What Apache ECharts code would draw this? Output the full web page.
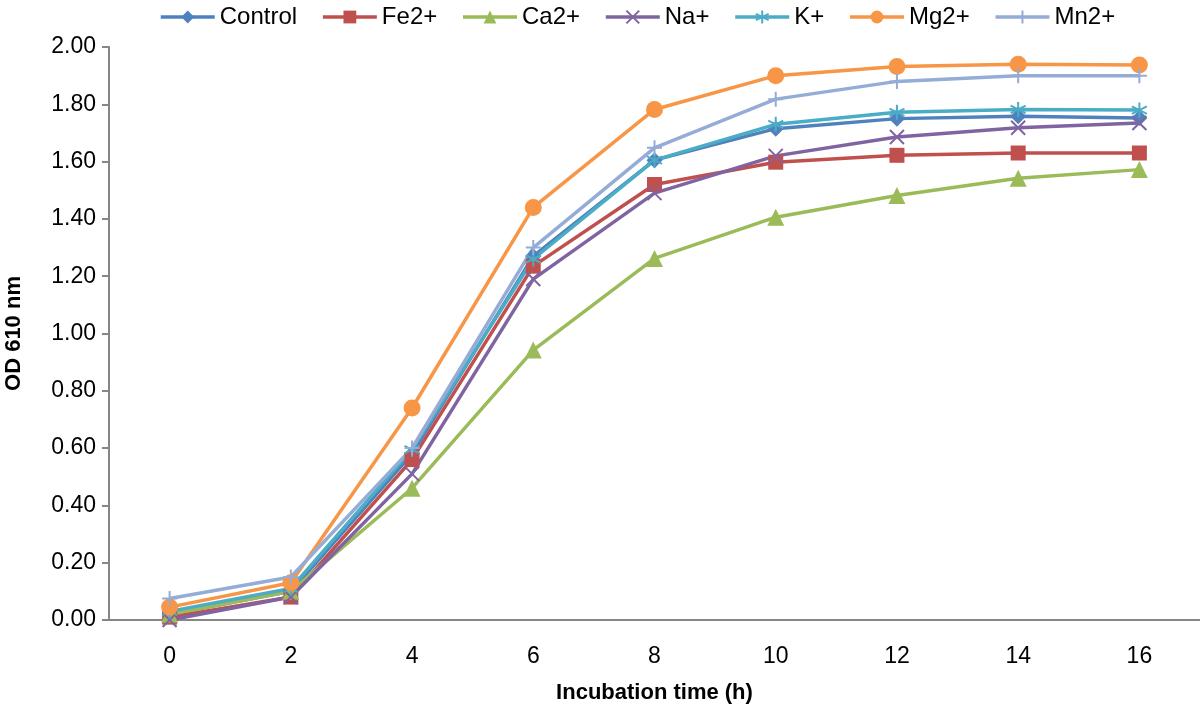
<!DOCTYPE html>
<html>
<head>
<meta charset="utf-8">
<script src="https://cdn.jsdelivr.net/npm/echarts@6/dist/echarts.min.js"></script>
<style>
  html, body { margin: 0; padding: 0; background: #fff; }
  #chart { width: 1200px; height: 709px; }
</style>
</head>
<body>
<div id="chart"></div>
<script>
// incubation time (h)
var hours = ['0', '2', '4', '6', '8', '10', '12', '14', '16'];

// OD 610 nm per treatment
var control = [0.02, 0.10, 0.58, 1.27, 1.605, 1.715, 1.75, 1.758, 1.752];
var fe2 = [0.01, 0.08, 0.56, 1.235, 1.52, 1.598, 1.622, 1.63, 1.63];
var ca2 = [0.02, 0.10, 0.46, 0.942, 1.262, 1.406, 1.482, 1.542, 1.572];
var na = [0.00, 0.08, 0.51, 1.19, 1.49, 1.62, 1.686, 1.718, 1.735];
var k = [0.03, 0.11, 0.595, 1.26, 1.605, 1.73, 1.772, 1.782, 1.78];
var mg2 = [0.045, 0.13, 0.74, 1.44, 1.782, 1.90, 1.932, 1.94, 1.937];
var mn2 = [0.075, 0.15, 0.60, 1.30, 1.648, 1.818, 1.88, 1.90, 1.90];

var font = '"Liberation Sans", Arial, Helvetica, sans-serif';

function mk(name, data, color, symbol, size, stroke) {
  return {
    name: name,
    type: 'line',
    data: data,
    symbol: symbol,
    symbolSize: size,
    showAllSymbol: true,
    lineStyle: { color: color, width: 3.5 },
    itemStyle: stroke
      ? { color: color, borderColor: color, borderWidth: 2 }
      : { color: color },
    emphasis: { disabled: true },
    animation: false
  };
}

var chart = echarts.init(document.getElementById('chart'));
chart.setOption({
  backgroundColor: '#fff',
  textStyle: { fontFamily: font },
  legend: {
    top: 0,
    left: 154,
    itemWidth: 54,
    itemHeight: 16,
    itemGap: 24,
    lineStyle: { width: 3.5 },
    textStyle: { fontSize: 24, color: '#000', fontFamily: font }
  },
  grid: { left: 109, right: 0, top: 47, bottom: 89, outerBoundsMode: 'none' },
  xAxis: {
    type: 'category',
    data: hours,
    boundaryGap: true,
    name: 'Incubation time (h)',
    nameLocation: 'middle',
    nameGap: 62,
    nameTextStyle: { fontSize: 22, fontWeight: 'bold', color: '#000', fontFamily: font },
    axisLine: { lineStyle: { color: '#868686', width: 2 } },
    axisTick: { show: false },
    axisLabel: { fontSize: 23, color: '#000', margin: 25, fontFamily: font }
  },
  yAxis: {
    type: 'value',
    min: 0,
    max: 2,
    interval: 0.2,
    name: 'OD 610 nm',
    nameLocation: 'middle',
    nameGap: 84,
    nameTextStyle: { fontSize: 22, fontWeight: 'bold', color: '#000', fontFamily: font },
    axisLine: { show: true, lineStyle: { color: '#868686', width: 2 } },
    axisTick: { show: true, inside: false, length: 7, lineStyle: { color: '#868686', width: 2 } },
    splitLine: { show: false },
    axisLabel: {
      fontSize: 23, color: '#000', margin: 13, fontFamily: font,
      formatter: function (v) { return v.toFixed(2); }
    }
  },
  series: [
    mk('Control', control, '#4F81BD', 'diamond', 16),
    mk('Fe2+', fe2, '#C0504D', 'rect', 15),
    mk('Ca2+', ca2, '#9BBB59', 'triangle', 17),
    mk('Na+', na, '#8064A2', 'path://M0,0L10,10M10,0L0,10', 14, true),
    mk('K+', k, '#4BACC6', 'path://M5,0L5,10M0,2.5L10,7.5M0,7.5L10,2.5', 15, true),
    mk('Mg2+', mg2, '#F79646', 'circle', 17),
    mk('Mn2+', mn2, '#94ACD6', 'path://M5,0L5,10M0,5L10,5', 15, true)
  ]
});
</script>
</body>
</html>
